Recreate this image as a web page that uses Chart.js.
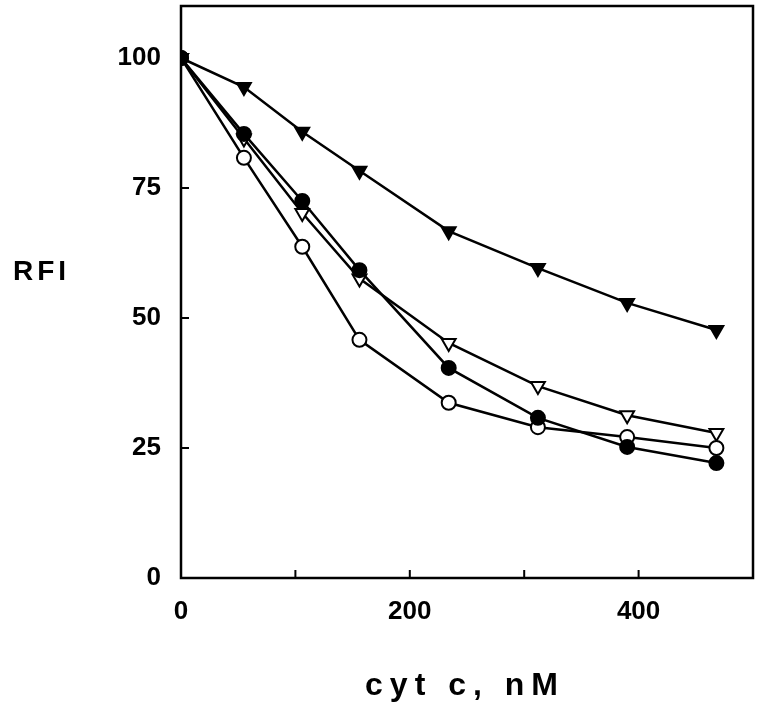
<!DOCTYPE html>
<html>
<head>
<meta charset="utf-8">
<title>RFI vs cyt c</title>
<script src="https://cdn.jsdelivr.net/npm/chart.js@4/dist/chart.umd.min.js"></script>
<style>
  html, body { margin: 0; padding: 0; background: #fff; }
  canvas { display: block; }
</style>
</head>
<body>
<canvas id="myChart" width="767" height="703"></canvas>
<script>
// cyt c concentration (nM)
const concentrations = [0, 55, 106, 156, 234, 312, 390, 468];

// RFI for each series
const filledTriangle = [100, 94.4, 85.8, 78.3, 66.7, 59.6, 52.9, 47.7];
const openTriangle = [100, 84.5, 70.2, 57.6, 45.2, 36.9, 31.3, 27.9];
const filledCircle = [100, 85.4, 72.5, 59.2, 40.4, 30.8, 25.2, 22.1];
const openCircle = [100, 80.8, 63.7, 45.8, 33.7, 29.0, 27.1, 25.0];

const xTicks = [0, 100, 200, 300, 400, 500];
const xLabels = [0, 200, 400];
const yTicks = [0, 25, 50, 75, 100];

const toPoints = values => concentrations.map((x, i) => ({ x: x, y: values[i] }));

const tickFont = { family: '"Liberation Sans", Arial, sans-serif', size: 26, weight: 'bold' };

// frame, inward tick marks and the two axis titles
const framePlugin = {
  id: 'frame',
  afterDraw(chart) {
    const ctx = chart.ctx;
    const area = chart.chartArea;
    const xs = chart.scales.x;
    const ys = chart.scales.y;
    ctx.save();
    ctx.strokeStyle = '#000';
    ctx.lineWidth = 2.5;
    ctx.strokeRect(area.left, area.top, area.right - area.left, area.bottom - area.top);

    ctx.lineWidth = 2;
    ctx.beginPath();
    xTicks.forEach(v => {
      if (v <= 0 || v >= 500) return;
      const px = xs.getPixelForValue(v);
      ctx.moveTo(px, area.bottom);
      ctx.lineTo(px, area.bottom - 8);
    });
    yTicks.forEach(v => {
      if (v <= 0 || v >= 100) return;
      const py = ys.getPixelForValue(v);
      ctx.moveTo(area.left, py);
      ctx.lineTo(area.left + 8, py);
    });
    ctx.stroke();

    ctx.fillStyle = '#000';
    ctx.letterSpacing = '7px';
    ctx.font = 'bold 32px "Liberation Sans", Arial, sans-serif';
    ctx.textAlign = 'center';
    ctx.textBaseline = 'middle';
    ctx.fillText('cyt c, nM', (area.left + area.right) / 2 - 2, 686);

    ctx.letterSpacing = '4px';
    ctx.font = 'bold 28px "Liberation Sans", Arial, sans-serif';
    ctx.textAlign = 'left';
    ctx.fillText('RFI', 13, 272);
    ctx.restore();
  }
};

const ctx = document.getElementById('myChart').getContext('2d');

new Chart(ctx, {
  type: 'scatter',
  data: {
    datasets: [
      {
        label: 'filled circle',
        data: toPoints(filledCircle),
        pointStyle: 'circle',
        pointRadius: 7,
        pointBackgroundColor: '#000'
      },
      {
        label: 'open circle',
        data: toPoints(openCircle),
        pointStyle: 'circle',
        pointRadius: 7,
        pointBackgroundColor: '#fff'
      },
      {
        label: 'open triangle',
        data: toPoints(openTriangle),
        pointStyle: 'triangle',
        pointRotation: 180,
        pointRadius: 8,
        pointBackgroundColor: '#fff'
      },
      {
        label: 'filled triangle',
        data: toPoints(filledTriangle),
        pointStyle: 'triangle',
        pointRotation: 180,
        pointRadius: 8,
        pointBackgroundColor: '#000'
      }
    ].map(ds => Object.assign({
      showLine: true,
      borderColor: '#000',
      borderWidth: 2.5,
      pointBorderColor: '#000',
      pointBorderWidth: 2,
      pointHoverRadius: 8
    }, ds))
  },
  options: {
    responsive: false,
    animation: false,
    layout: { autoPadding: false, padding: { top: 6, right: 14, left: 0, bottom: 0 } },
    scales: {
      x: {
        type: 'linear',
        min: 0,
        max: 500,
        afterBuildTicks: scale => { scale.ticks = xTicks.map(v => ({ value: v })); },
        afterFit: scale => {
          scale.height = 125;
          scale.paddingLeft = 0;
          scale.paddingRight = 0;
        },
        grid: { display: false, drawTicks: false },
        border: { display: false },
        ticks: {
          color: '#000',
          font: tickFont,
          padding: 18,
          maxRotation: 0,
          autoSkip: false,
          callback: v => (xLabels.includes(v) ? v : '')
        }
      },
      y: {
        min: 0,
        max: 110,
        afterBuildTicks: scale => { scale.ticks = yTicks.map(v => ({ value: v })); },
        afterFit: scale => {
          scale.width = 181;
          scale.paddingTop = 0;
          scale.paddingBottom = 0;
        },
        grid: { display: false, drawTicks: false },
        border: { display: false },
        ticks: {
          color: '#000',
          font: tickFont,
          padding: 20
        }
      }
    },
    plugins: {
      legend: { display: false },
      title: { display: false },
      tooltip: { enabled: false }
    }
  },
  plugins: [framePlugin]
});
</script>
</body>
</html>
